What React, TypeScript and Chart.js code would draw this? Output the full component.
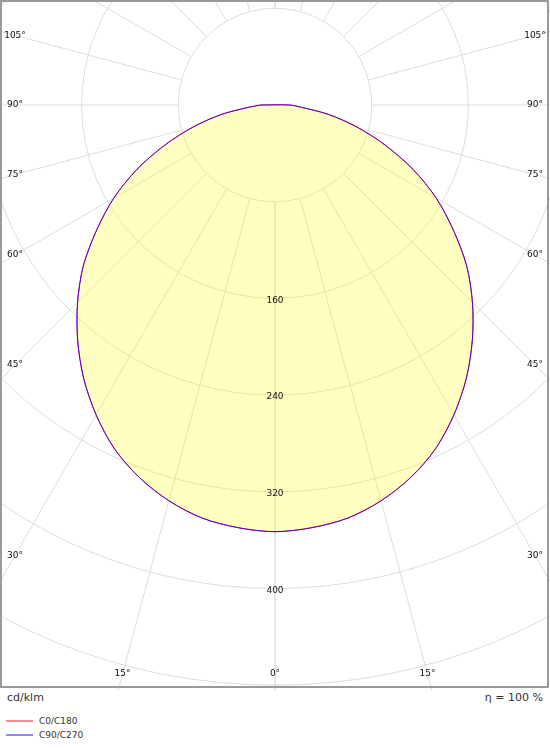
import React, { useEffect, useRef } from "react";
import { Chart, registerables } from "chart.js";

Chart.register(...registerables);

// Photometric data (cd/klm) per gamma angle
const ANGLES = [0, 5, 10, 15, 20, 25, 30, 35, 40, 45, 50, 55, 60, 65, 70, 75, 80, 85, 90];
const C0_C180 = [353, 351, 347, 339, 328, 314, 296, 276, 254, 231, 207, 180, 154, 126, 97, 70, 45, 22, 12];
const C90_C270 = [353, 351, 347, 339, 328, 314, 296, 276, 254, 231, 207, 180, 154, 126, 97, 70, 45, 22, 12];

// Grid definition
const GRID_RADII = [80, 160, 240, 320, 400, 480, 560, 640];
const RADIAL_LABELS = [160, 240, 320, 400];
const SPOKE_ANGLES = [0, 15, 30, 45, 60, 75, 90, 105, 120, 135, 150, 165, 180];
const ANGLE_LABELS = [0, 15, 30, 45, 60, 75, 90, 105, 120];
const SERIES_NAMES = ["C0/C180", "C90/C270"];
const UNIT_LABEL = "cd/klm";
const EFFICIENCY_LABEL = "η = 100 %";

const W = 550;
const H = 690;
const K = 96.7 / 80; // px per cd/klm
const CX = 275;
const CY = 105;

function toPoints(vals: number[]) {
  const pts: { x: number; y: number }[] = [];
  for (let i = ANGLES.length - 1; i >= 0; i--) {
    const t = (ANGLES[i] * Math.PI) / 180;
    pts.push({ x: -vals[i] * Math.sin(t), y: -vals[i] * Math.cos(t) });
  }
  for (let i = 1; i < ANGLES.length; i++) {
    const t = (ANGLES[i] * Math.PI) / 180;
    pts.push({ x: vals[i] * Math.sin(t), y: -vals[i] * Math.cos(t) });
  }
  pts.push({ ...pts[0] });
  return pts;
}

const FONT = '9px "DejaVu Sans"';

const polarPlugin = {
  id: "polarGrid",
  beforeDraw(chart: any) {
    const { ctx, chartArea } = chart;
    const xs = chart.scales.x;
    const ys = chart.scales.y;
    const cx = xs.getPixelForValue(0);
    const cy = ys.getPixelForValue(0);
    const ppu = xs.getPixelForValue(1) - cx;
    ctx.save();
    ctx.beginPath();
    ctx.rect(chartArea.left, chartArea.top, chartArea.right - chartArea.left, chartArea.bottom - chartArea.top);
    ctx.clip();
    ctx.strokeStyle = "#dcdcdc";
    ctx.lineWidth = 1;
    for (const r of GRID_RADII) {
      ctx.beginPath();
      ctx.arc(cx, cy, r * ppu, 0, Math.PI * 2);
      ctx.stroke();
    }
    for (const a of SPOKE_ANGLES) {
      for (const s of [-1, 1]) {
        const t = (a * Math.PI) / 180;
        const r0 = GRID_RADII[0] * ppu;
        const r1 = 2000;
        ctx.beginPath();
        ctx.moveTo(cx + s * r0 * Math.sin(t), cy + r0 * Math.cos(t));
        ctx.lineTo(cx + s * r1 * Math.sin(t), cy + r1 * Math.cos(t));
        ctx.stroke();
      }
    }
    ctx.restore();
  },
  beforeDatasetsDraw(chart: any) {
    const { ctx } = chart;
    const meta = chart.getDatasetMeta(0);
    if (!meta || !meta.data || !meta.data.length) return;
    ctx.save();
    ctx.fillStyle = "rgba(255,255,0,0.24)";
    ctx.beginPath();
    const line = meta.dataset;
    let ok = false;
    if (line && typeof line.path === "function") {
      try {
        line.path(ctx);
        ok = true;
      } catch (e) {
        ok = false;
      }
    }
    if (!ok) {
      ctx.beginPath();
      meta.data.forEach((p: any, i: number) => (i === 0 ? ctx.moveTo(p.x, p.y) : ctx.lineTo(p.x, p.y)));
    }
    ctx.closePath();
    ctx.fill();
    ctx.restore();
  },
  afterDatasetsDraw(chart: any) {
    const { ctx } = chart;
    const xs = chart.scales.x;
    const ys = chart.scales.y;
    const cx = xs.getPixelForValue(0);
    const cy = ys.getPixelForValue(0);
    const ppu = xs.getPixelForValue(1) - cx;
    ctx.save();
    ctx.font = FONT;
    ctx.fillStyle = "#111";
    ctx.textAlign = "center";
    ctx.textBaseline = "middle";
    for (const v of RADIAL_LABELS) {
      ctx.fillText(String(v), cx, cy + v * ppu + 2);
    }
    const xL = 15, xR = W - 15, yB = 674;
    for (const a of ANGLE_LABELS) {
      const t = (a * Math.PI) / 180;
      for (const s of [-1, 1]) {
        if (a === 0 && s === 1) continue;
        let px: number, py: number;
        const cosT = Math.cos(t), sinT = Math.sin(t);
        if (cosT > 1e-6) {
          const tt = (yB - cy) / cosT;
          px = cx + s * tt * sinT;
          py = yB;
          if (px >= xL && px <= xR) {
            ctx.fillText(a + "°", px, py);
            continue;
          }
        }
        const dx = s < 0 ? cx - xL : xR - cx;
        const tt = dx / sinT;
        px = cx + s * dx;
        py = cy + tt * cosT;
        if (py < 10) continue;
        ctx.fillText(a + "°", px, py);
      }
    }
    ctx.restore();
  },
  afterDraw(chart: any) {
    const { ctx } = chart;
    ctx.save();
    ctx.strokeStyle = "#9a9a9a";
    ctx.lineWidth = 2;
    ctx.strokeRect(1, 1, 547, 686);
    ctx.restore();
  },
};

export default function App() {
  const ref = useRef<HTMLCanvasElement | null>(null);
  useEffect(() => {
    if (!ref.current) return;
    const chart = new Chart(ref.current, {
      type: "scatter",
      data: {
        datasets: [
          {
            label: SERIES_NAMES[1],
            data: toPoints(C90_C270),
            showLine: true,
            borderColor: "rgba(40,0,255,0.8)",
            borderWidth: 1,
            tension: 0.3,
            pointRadius: 0,
            fill: false,
            order: 1,
          } as any,
          {
            label: SERIES_NAMES[0],
            data: toPoints(C0_C180),
            showLine: true,
            borderColor: "#ff0000",
            borderWidth: 1,
            tension: 0.3,
            pointRadius: 0,
            fill: false,
            order: 2,
          } as any,
        ],
      },
      options: {
        animation: false,
        responsive: false,
        devicePixelRatio: 1,
        layout: { padding: 0 },
        events: [],
        scales: {
          x: { type: "linear", display: false, min: -CX / K, max: (W - CX) / K },
          y: { type: "linear", display: false, min: -(H - CY) / K, max: CY / K },
        },
        plugins: {
          legend: { display: false },
          tooltip: { enabled: false },
        } as any,
      },
      plugins: [polarPlugin],
    });
    return () => chart.destroy();
  }, []);

  const txt: React.CSSProperties = {
    position: "absolute",
    fontFamily: '"DejaVu Sans", sans-serif',
    color: "#333",
    whiteSpace: "nowrap",
    lineHeight: "13px",
  };
  return (
    <div style={{ position: "absolute", left: 0, top: 0, width: 550, height: 750, background: "#fff" }}>
      <canvas ref={ref} width={W} height={H} style={{ position: "absolute", left: 0, top: 0, width: W, height: H }} />
      <div style={{ ...txt, left: 7, top: 691, fontSize: 11 }}>{UNIT_LABEL}</div>
      <div style={{ ...txt, right: 7, top: 691, fontSize: 11 }}>{EFFICIENCY_LABEL}</div>
      <div style={{ position: "absolute", left: 6, top: 720, width: 27, height: 2, background: "#ff8c8c" }} />
      <div style={{ ...txt, left: 39, top: 715, fontSize: 9, lineHeight: "12px" }}>{SERIES_NAMES[0]}</div>
      <div style={{ position: "absolute", left: 6, top: 734, width: 27, height: 2, background: "#8c8cff" }} />
      <div style={{ ...txt, left: 39, top: 729, fontSize: 9, lineHeight: "12px" }}>{SERIES_NAMES[1]}</div>
    </div>
  );
}
